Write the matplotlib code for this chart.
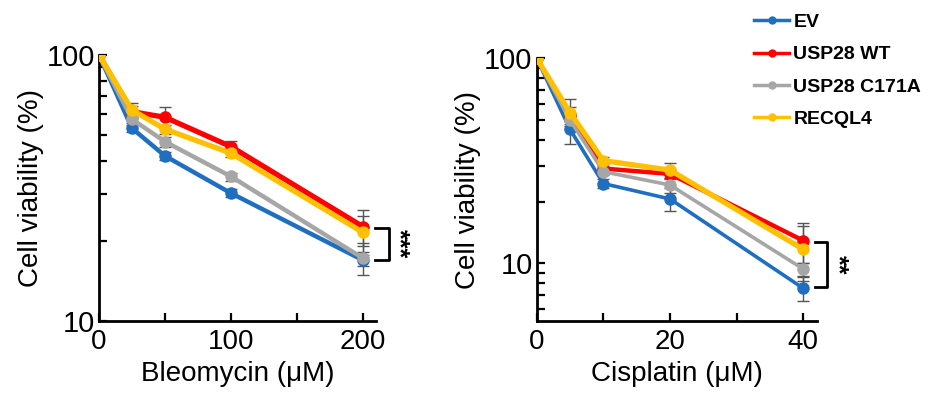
import numpy as np
import matplotlib
matplotlib.use('Agg')
import matplotlib.pyplot as plt
from matplotlib.lines import Line2D

plt.rcParams['font.family'] = ['Liberation Sans', 'DejaVu Sans']

groups = ['EV', 'USP28 WT', 'USP28 C171A', 'RECQL4']
colors = ['#1F6EC0', '#FF0000', '#A6A6A6', '#FFC000']

bleo_dose = [0, 25, 50, 100, 200]
bleo_ev = [100, 53.0, 41.7, 30.2, 16.9]
bleo_wt = [100, 61.2, 58.3, 45.2, 22.6]
bleo_ca = [100, 57.3, 47.2, 34.9, 17.2]
bleo_rq = [100, 62.1, 52.6, 42.7, 21.5]
bleo_ev_err = [0, 1.5, 1.5, 1.0, 0.8]
bleo_wt_err = [0, 3.0, 5.3, 2.4, 3.5]
bleo_ca_err = [0, 2.0, 2.0, 1.2, 2.4]
bleo_rq_err = [0, 4.0, 2.0, 1.5, 3.3]

cis_dose = [0, 5, 10, 20, 40]
cis_ev = [100, 45.0, 24.5, 20.6, 7.55]
cis_wt = [100, 53.0, 29.0, 27.3, 12.9]
cis_ca = [100, 50.0, 28.0, 24.1, 9.38]
cis_rq = [100, 54.3, 31.7, 28.5, 11.7]
cis_ev_err = [0, 7.0, 1.3, 2.6, 1.0]
cis_wt_err = [0, 5.0, 1.0, 1.5, 2.9]
cis_ca_err = [0, 3.0, 1.0, 2.0, 0.7]
cis_rq_err = [0, 9.0, 1.2, 2.3, 3.5]

fig = plt.figure(figsize=(9.36, 4.01), dpi=100)
ax1 = fig.add_axes([0.1058, 0.2002, 0.296, 0.6626])
ax2 = fig.add_axes([0.5734, 0.2002, 0.2991, 0.6544])


def draw(ax, dose, series, errs, widths):
    for y, e, c, lw in zip(series, errs, colors, widths):
        ax.errorbar(dose, y, yerr=e, fmt='none', ecolor='#555555',
                    elinewidth=1, capsize=4.5, capthick=1, zorder=2)
        ax.plot(dose, y, color=c, lw=lw, marker='o', ms=8, zorder=3)
    ax.set_yscale('log')
    for s in ['top', 'right']:
        ax.spines[s].set_visible(False)
    for s in ['left', 'bottom']:
        ax.spines[s].set_linewidth(2)
    ax.tick_params(which='both', direction='in', width=1.6)
    ax.tick_params(which='major', length=6)
    ax.tick_params(which='minor', length=6)
    ax.tick_params(axis='y', pad=3, labelsize=21)
    ax.tick_params(axis='x', pad=6, labelsize=20)
    ax.set_ylabel('Cell viability (%)', fontsize=20, labelpad=2)


draw(ax1, bleo_dose, [bleo_ev, bleo_wt, bleo_ca, bleo_rq],
     [bleo_ev_err, bleo_wt_err, bleo_ca_err, bleo_rq_err], [3.2, 3.8, 3.2, 3.8])
ax1.set_xlim(0, 210)
ax1.set_ylim(10, 100)
ax1.set_xticks([0, 50, 100, 150, 200])
ax1.set_xticklabels(['0', '', '100', '', '200'])
ax1.set_yticks([10, 100])
ax1.set_yticklabels(['10', '100'])
ax1.set_yticks([20, 30, 40, 50, 60, 70, 80, 90], minor=True)
ax1.set_yticklabels([], minor=True)
ax1.set_xlabel('Bleomycin (\u03bcM)', fontsize=20, labelpad=4)

draw(ax2, cis_dose, [cis_ev, cis_wt, cis_ca, cis_rq],
     [cis_ev_err, cis_wt_err, cis_ca_err, cis_rq_err], [2.6, 3.2, 2.6, 3.8])
ax2.set_xlim(0, 42)
ax2.set_ylim(5.25, 100)
ax2.set_xticks([0, 10, 20, 30, 40])
ax2.set_xticklabels(['0', '', '20', '', '40'])
ax2.set_yticks([10, 100])
ax2.set_yticklabels(['10', '100'])
ax2.set_yticks([6, 7, 8, 9, 20, 30, 40, 50, 60, 70, 80, 90], minor=True)
ax2.set_yticklabels([], minor=True)
ax2.set_xlabel('Cisplatin (\u03bcM)', fontsize=20, labelpad=4)

# significance brackets
ax1.plot([209, 219.7, 219.7, 209], [22.4, 22.4, 16.9, 16.9], color='black',
         lw=2, clip_on=False)
ax1.text(227, 19.5, '***', rotation=270, fontsize=18, fontweight='bold',
         ha='center', va='center')
ax2.plot([41.8, 43.6, 43.6, 41.8], [12.7, 12.7, 7.64, 7.64], color='black',
         lw=2, clip_on=False)
ax2.text(45.2, 9.8, '**', rotation=270, fontsize=18, fontweight='bold',
         ha='center', va='center')

handles = [Line2D([], [], color=c, lw=2.5, marker='o', ms=5) for c in colors]
fig.legend(handles, groups, loc='upper left', bbox_to_anchor=(0.7905, 1.0),
           frameon=False, prop={'weight': 'bold', 'size': 14},
           handlelength=1.85, handletextpad=0.2, labelspacing=0.75,
           borderaxespad=0.3)

fig.savefig('out.png', dpi=100)
